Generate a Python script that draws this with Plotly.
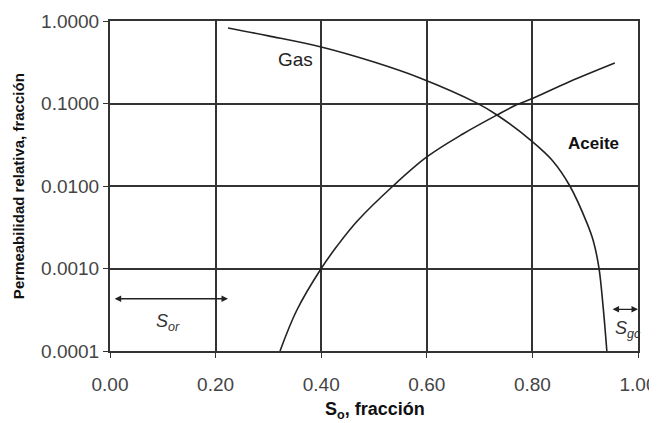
import math
import plotly.graph_objects as go

# Gas relative permeability (decreasing with So)
gas_so = [0.2235, 0.30, 0.40, 0.50, 0.587, 0.695, 0.733, 0.801, 0.839, 0.871, 0.903, 0.915, 0.926, 0.934, 0.941]
gas_kr = [0.822, 0.66, 0.484, 0.318, 0.204, 0.101, 0.0726, 0.034, 0.020, 0.0100, 0.0036, 0.0022, 0.00102, 0.00034, 0.0001]

# Oil relative permeability (increasing with So)
oil_so = [0.322, 0.354, 0.40, 0.43, 0.468, 0.536, 0.60, 0.669, 0.733, 0.771, 0.80, 0.871, 0.956]
oil_kr = [0.0001, 0.000314, 0.001, 0.00187, 0.00374, 0.0100, 0.0225, 0.043, 0.0726, 0.097, 0.115, 0.185, 0.31]

x_ticks = [0.0, 0.2, 0.4, 0.6, 0.8, 1.0]
x_ticklabels = ["0.00", "0.20", "0.40", "0.60", "0.80", "1.00"]
y_ticks = [0.0001, 0.001, 0.01, 0.1, 1.0]
y_ticklabels = ["0.0001", "0.0010", "0.0100", "0.1000", "1.0000"]

sor = 0.2235
sgc_start = 0.949

fig = go.Figure()
for xs, ys in ((gas_so, gas_kr), (oil_so, oil_kr)):
    fig.add_trace(go.Scatter(x=xs, y=ys, mode="lines",
                             line=dict(color="#222", width=1.6, shape="spline", smoothing=1.0),
                             showlegend=False, hoverinfo="skip"))

font = "Liberation Sans, Arial, sans-serif"

# faint vertical line at Sor
fig.add_shape(type="line", xref="x", yref="y", x0=sor, x1=sor, y0=-4, y1=0,
              line=dict(color="#cfcfcf", width=1.5), layer="below")
# thin vertical line at Sgc
fig.add_shape(type="line", xref="x", yref="y", x0=sgc_start, x1=sgc_start, y0=-4.05, y1=-2.69,
              line=dict(color="#999", width=1))

# Sor arrow (double-headed)
fig.add_annotation(x=sor, y=math.log10(0.00043), ax=0.006, ay=math.log10(0.00043),
                   xref="x", yref="y", axref="x", ayref="y", text="", showarrow=True,
                   arrowhead=2, arrowside="end+start", arrowsize=1, arrowwidth=1.3, arrowcolor="#222")
# Sgc arrow
fig.add_annotation(x=1.0, y=math.log10(0.00032), ax=sgc_start, ay=math.log10(0.00032),
                   xref="x", yref="y", axref="x", ayref="y", text="", showarrow=True,
                   arrowhead=2, arrowside="end+start", arrowsize=1, arrowwidth=1.3, arrowcolor="#222")

fig.add_annotation(x=0.11, y=math.log10(0.00022), xref="x", yref="y", showarrow=False,
                   text="<i>S<sub>or</sub></i>", font=dict(family=font, size=18, color="#333"))
fig.add_annotation(x=0.981, y=math.log10(0.00018), xref="x", yref="y", showarrow=False,
                   text="<i>S<sub>gc</sub></i>", font=dict(family=font, size=18, color="#333"))
fig.add_annotation(x=0.352, y=math.log10(0.337), xref="x", yref="y", showarrow=False,
                   text="Gas", font=dict(family=font, size=19, color="#222"))
fig.add_annotation(x=0.915, y=math.log10(0.0332), xref="x", yref="y", showarrow=False,
                   text="<b>Aceite</b>", font=dict(family=font, size=17, color="#111"))

# axis titles
fig.add_annotation(x=0.502, y=-0.179, xref="paper", yref="paper", showarrow=False,
                   xanchor="center", yanchor="middle",
                   text="<b>S<sub>o</sub>, fracción</b>", font=dict(family=font, size=18, color="#111"))
fig.add_annotation(x=-0.174, y=0.5, xref="paper", yref="paper", showarrow=False,
                   xanchor="center", yanchor="middle", textangle=-90,
                   text="<b>Permeabilidad relativa, fracción</b>", font=dict(family=font, size=15, color="#111"))

fig.update_layout(
    width=649, height=415,
    margin=dict(l=102, r=19, t=13, b=72),
    paper_bgcolor="white", plot_bgcolor="white",
    font=dict(family=font, color="#333"),
    xaxis=dict(range=[0, 1], tickvals=x_ticks, ticktext=x_ticklabels, automargin=False,
               showgrid=True, gridcolor="#333", gridwidth=1.6, zeroline=False,
               showline=True, linecolor="#333", linewidth=2, mirror=True,
               ticks="outside", ticklen=5, tickcolor="#333", ticklabelstandoff=10,
               tickfont=dict(size=19, color="#444")),
    yaxis=dict(type="log", range=[-4, 0], tickvals=y_ticks, ticktext=y_ticklabels, automargin=False,
               showgrid=True, gridcolor="#333", gridwidth=1.6, zeroline=False,
               showline=True, linecolor="#333", linewidth=2, mirror=True,
               ticks="outside", ticklen=5, tickcolor="#333",
               tickfont=dict(size=19, color="#444")),
)

fig.write_html("out.html")
